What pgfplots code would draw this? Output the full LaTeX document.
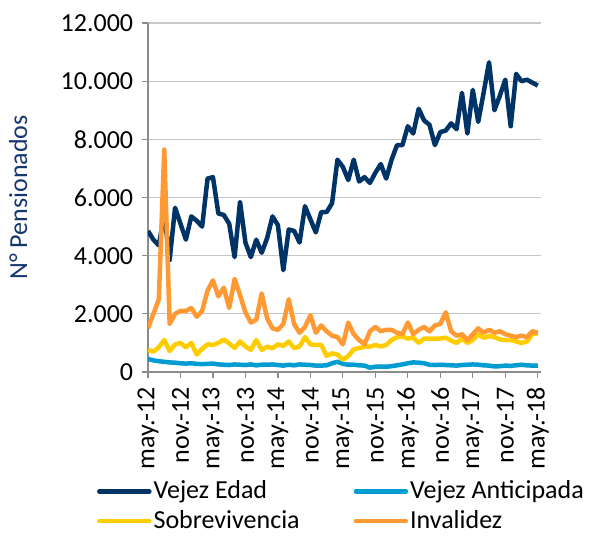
\documentclass[border=0pt]{standalone}
\usepackage{pgfplots}
\usepackage{pgfplotstable}
\pgfplotsset{compat=1.18}
\usepackage{fontspec}
\setmainfont{Carlito}
\definecolor{cEdad}{RGB}{0,51,102}
\definecolor{cAnt}{RGB}{0,156,210}
\definecolor{cSob}{RGB}{255,204,0}
\definecolor{cInv}{RGB}{255,153,51}
\definecolor{cLab}{RGB}{20,55,110}
\pgfplotstableread{
m ve va so in
0 4850 450 760 1500
1 4550 400 700 2000
2 4350 370 850 2500
3 5450 350 1100 7650
4 3850 330 720 1650
5 5650 320 950 2000
6 5100 300 1000 2100
7 4550 290 850 2100
8 5350 300 1000 2200
9 5200 280 600 1900
10 5000 270 800 2100
11 6650 280 950 2800
12 6700 290 930 3150
13 5450 260 1000 2600
14 5400 250 1120 2900
15 5100 240 980 2200
16 3950 260 830 3200
17 5850 250 1050 2650
18 4450 240 880 2050
19 3950 260 760 1700
20 4550 230 1100 1800
21 4100 250 760 2700
22 4600 250 870 1850
23 5350 260 820 1500
24 5050 240 950 1450
25 3500 220 900 1650
26 4900 250 1050 2500
27 4850 230 820 1650
28 4450 260 880 1350
29 5700 250 1200 1550
30 5250 240 950 1950
31 4800 220 930 1350
32 5500 220 930 1600
33 5500 230 550 1400
34 5800 300 640 1250
35 7300 350 600 1200
36 7050 280 420 950
37 6600 250 550 1700
38 7300 250 780 1300
39 6550 230 820 1100
40 6700 220 870 950
41 6500 150 870 1400
42 6850 180 930 1550
43 7150 190 880 1400
44 6650 180 930 1450
45 7300 200 1100 1450
46 7800 230 1200 1350
47 7800 260 1220 1300
48 8450 300 1150 1700
49 8200 330 1180 1300
50 9050 320 1000 1450
51 8650 300 1150 1550
52 8500 250 1150 1400
53 7800 240 1150 1600
54 8250 250 1150 1650
55 8300 240 1180 2050
56 8550 230 1080 1400
57 8350 220 1000 1250
58 9600 240 1150 1300
59 8200 250 1000 1100
60 9700 260 1100 1300
61 8600 250 1300 1500
62 9600 230 1180 1350
63 10650 220 1230 1450
64 9000 190 1200 1350
65 9500 200 1120 1400
66 10050 220 1100 1300
67 8450 210 1100 1250
68 10250 230 1050 1200
69 10000 250 1000 1250
70 10050 230 1050 1200
71 9950 220 1300 1400
72 9850 220 1330 1350
}\datatable
\begin{document}
\fontsize{26bp}{31bp}\selectfont
\begin{tikzpicture}
\path[use as bounding box] (-148bp,-165bp) rectangle (447bp,372bp);
\begin{axis}[
  at={(0,0)}, anchor=south west,
  scale only axis, width=393bp, height=349bp,
  xmin=0, xmax=72.6, ymin=0, ymax=12000,
  axis lines*=left,
  axis line style={color=black!45, line width=1.2bp},
  tick style={color=black!45, line width=1.2bp},
  major tick length=6bp, tick align=outside,
  ymajorgrids, grid style={color=black!22, line width=1.3bp},
  ytick={0,2000,...,12000},
  xtick={0,6,...,72},
  xticklabels={may.-12,nov.-12,may.-13,nov.-13,may.-14,nov.-14,may.-15,nov.-15,may.-16,nov.-16,may.-17,nov.-17,may.-18},
  xticklabel style={rotate=90, anchor=east},
  /pgf/number format/assume math mode=true,
  yticklabel style={/pgf/number format/1000 sep={.}},
  scaled y ticks=false,
  ylabel={N° Pensionados},
  ylabel style={color=cLab, at={(axis description cs:-0.33,0.5)}, anchor=center},
  legend columns=2,
  legend cell align=left,
  legend style={draw=none, fill=none, inner sep=0pt, at={(axis description cs:-0.13,-0.304)}, anchor=north west,
    /tikz/every even column/.append style={column sep=52bp}, row sep=4bp},
  legend image code/.code={\draw[#1, line cap=round] (0bp,0bp) -- (50bp,0bp);},
  every axis plot/.append style={line width=4.5bp, line join=round, mark=none},
]
\addplot[cEdad] table[x=m, y=ve] {\datatable};
\addlegendentry{Vejez Edad}
\addplot[cAnt] table[x=m, y=va] {\datatable};
\addlegendentry{Vejez Anticipada}
\addplot[cSob] table[x=m, y=so] {\datatable};
\addlegendentry{Sobrevivencia}
\addplot[cInv] table[x=m, y=in] {\datatable};
\addlegendentry{Invalidez}
\end{axis}
\end{tikzpicture}
\end{document}
